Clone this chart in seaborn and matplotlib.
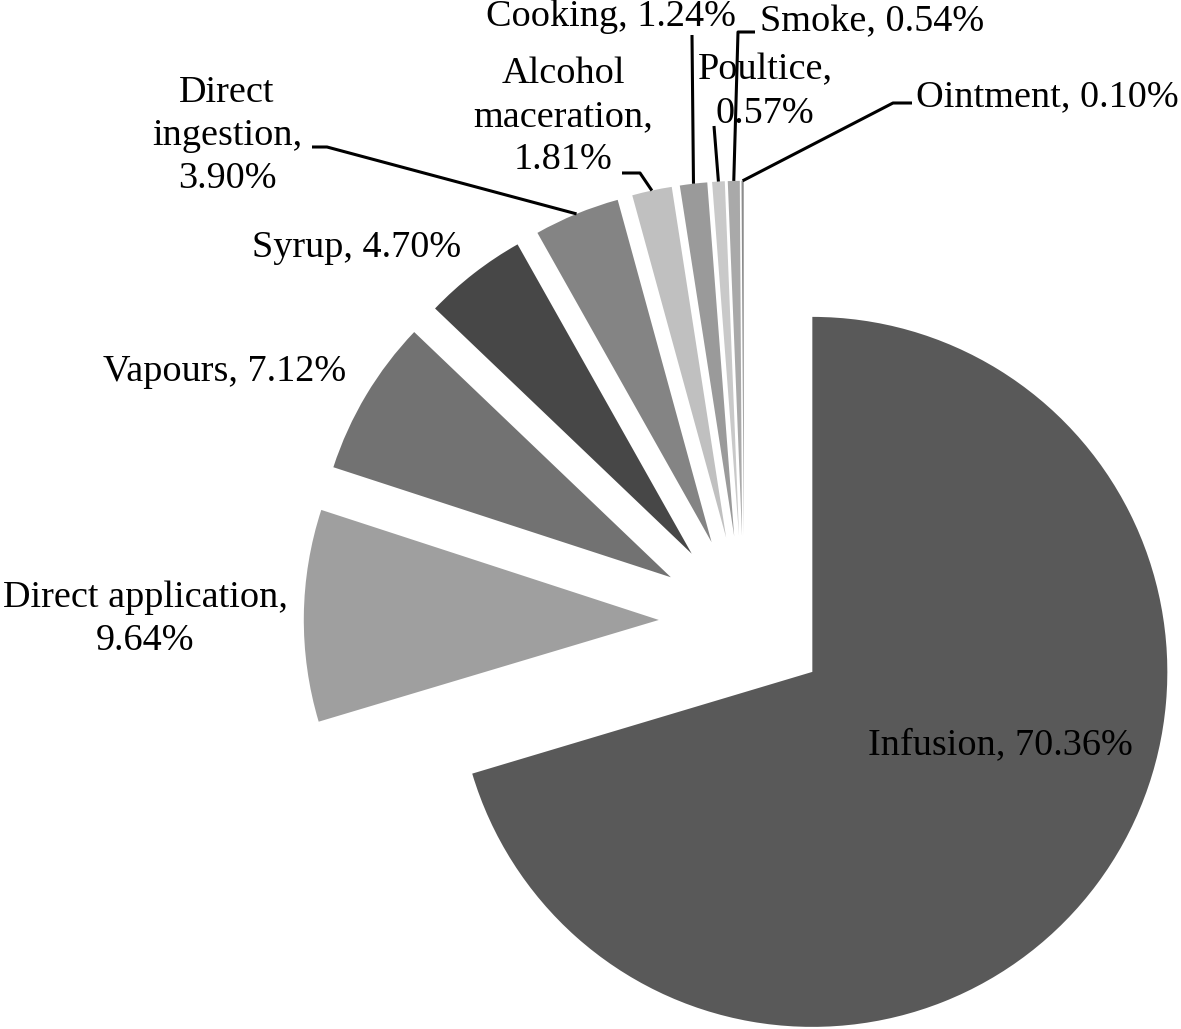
import numpy as np
import matplotlib.pyplot as plt
import seaborn as sns

# data
methods = ["Infusion", "Direct application", "Vapours", "Syrup", "Direct ingestion",
           "Alcohol maceration", "Cooking", "Poultice", "Smoke", "Ointment"]
shares = [70.36, 9.64, 7.12, 4.70, 3.90, 1.81, 1.24, 0.57, 0.54, 0.10]
label_text = ["Infusion, 70.36%", "Direct application,\n9.64%", "Vapours, 7.12%",
              "Syrup, 4.70%", "Direct\ningestion,\n3.90%", "Alcohol\nmaceration,\n1.81%",
              "Cooking, 1.24%", "Poultice,\n0.57%", "Smoke, 0.54%", "Ointment, 0.10%"]
grays = ["#595959", "#9f9f9f", "#727272", "#474747", "#848484",
         "#c0c0c0", "#9a9a9a", "#c9c9c9", "#a9a9a9", "#8c8c8c"]

sns.set_theme(style="white")
plt.rcParams['font.family'] = ['Liberation Serif', 'DejaVu Serif']

W, H = 1181, 1029
CX, CY, R = 744, 621, 355  # pie centre / radius in pixels


def px(x, y):
    # pixel position -> data units of the pie
    return ((x - CX) / R, (CY - y) / R)


fig = plt.figure(figsize=(W / 100, H / 100), dpi=100)
ax = fig.add_axes([0, 0, 1, 1])

wedges, _ = ax.pie(shares, colors=grays, startangle=90, counterclock=False,
                   explode=[0.24] * len(shares), radius=1,
                   wedgeprops=dict(linewidth=0))

ax.set_xlim(-CX / R, (W - CX) / R)
ax.set_ylim((CY - H) / R, CY / R)
ax.set_aspect('auto')
ax.axis('off')

# label centres (pixels)
label_pos = [(1000, 745), (145, 619), (225, 372), (357, 248), (227, 136),
             (563, 117), (611, 17), (765, 92), (872, 22), (1047, 97)]

# leader lines: points from the label towards the slice (pixels)
leaders = {
    4: [(312, 147), (327, 147)],
    5: [(622, 173), (640, 173)],
    6: [(692, 35)],
    7: [(714, 126)],
    8: [(755, 32), (738, 32)],
    9: [(912, 103), (893, 103)],
}

for i, txt in enumerate(label_text):
    x, y = px(*label_pos[i])
    ax.text(x, y, txt, ha='center', va='center', fontsize=27.5,
            color='black', linespacing=1.33)

for i, pts in leaders.items():
    w = wedges[i]
    mid = np.deg2rad((w.theta1 + w.theta2) / 2)
    ex = w.center[0] + w.r * np.cos(mid)
    ey = w.center[1] + w.r * np.sin(mid)
    xs = [px(*p)[0] for p in pts] + [ex]
    ys = [px(*p)[1] for p in pts] + [ey]
    ax.plot(xs, ys, color='black', lw=2.2, solid_capstyle='butt')

fig.savefig("out.png", dpi=100)
